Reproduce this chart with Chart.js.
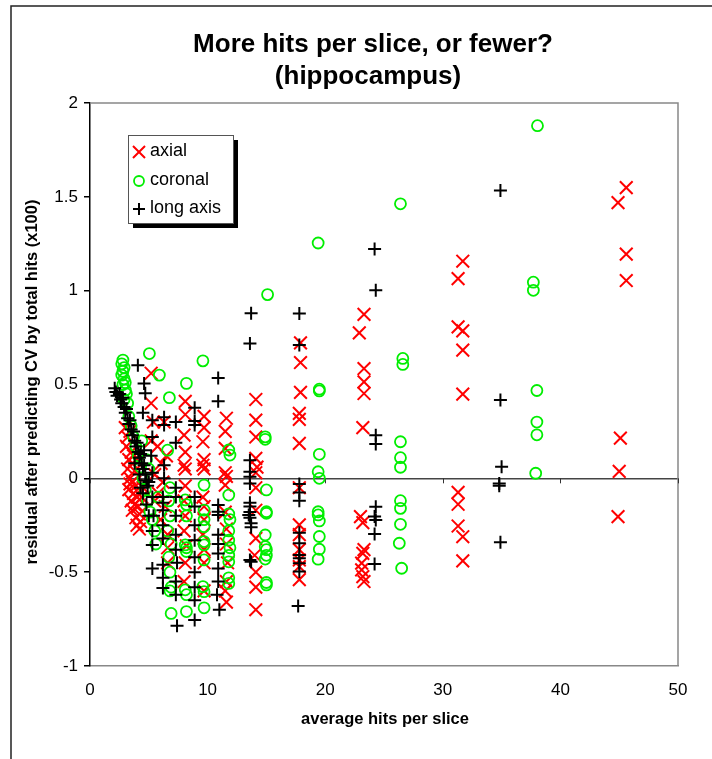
<!DOCTYPE html>
<html>
<head>
<meta charset="utf-8">
<script src="https://cdn.jsdelivr.net/npm/chart.js@4/dist/chart.umd.min.js"></script>
<style>
  html, body { margin: 0; padding: 0; background: #fff; }
  #wrap { width: 712px; height: 759px; }
</style>
</head>
<body>
<div id="wrap"><canvas id="c" width="712" height="759"></canvas></div>
<script>
// ---------- data ----------
const titleLines = ["More hits per slice, or fewer?", "(hippocampus)"];
const xTitle = "average hits per slice";
const yTitle = "residual after predicting CV by total hits (x100)";
const seriesNames = ["axial", "coronal", "long axis"];
const xTicks = [0, 10, 20, 30, 40, 50];
const yTicks = [-1, -0.5, 0, 0.5, 1, 1.5, 2];

const axialX = [
  3.0,3.2,3.4,3.1,3.5,3.3,3.6,3.2,3.8,3.4,3.6,3.9,3.3,3.7,4.0,3.5,3.8,4.1,3.6,4.2,3.9,4.3,4.0,4.2,3.4,3.7,4.4,4.5,
  5.2,5.2,5.4,5.2,5.75,6.5,6.05,5.5,6.2,5.8,6.4,6.0,6.6,6.6,6.6,5.5,6.3,
  8.1,8.1,8.0,8.1,8.0,8.1,8.1,8.0,8.1,8.0,8.2,8.1,8.0,
  9.7,9.7,9.6,9.7,9.6,9.7,9.6,9.7,9.7,9.6,9.7,9.7,9.7,
  11.6,11.5,11.5,11.5,11.6,11.5,11.5,11.6,11.6,11.7,11.6,11.5,11.6,
  14.1,14.1,14.1,14.1,14.2,14.1,14.1,14.1,14.1,14.0,14.1,14.1,14.1,
  17.9,17.9,17.9,17.8,17.8,17.8,17.8,17.8,17.8,17.8,17.8,17.8,17.8,
  23.3,22.9,23.3,23.3,23.3,23.2,23.0,23.2,23.3,23.2,23.1,23.1,23.2,23.3,
  31.7,31.3,31.3,31.7,31.7,31.7,31.3,31.3,31.3,31.7,31.7,
  45.6,44.9,45.6,45.6,45.1,45.0,44.9
];
const axialY = [
  0.27,0.22,0.25,0.17,0.14,0.10,0.08,0.05,0.04,0.00,-0.02,-0.04,-0.06,-0.08,-0.10,-0.12,-0.14,-0.15,-0.17,-0.19,-0.21,-0.23,-0.25,-0.27,-0.03,0.12,-0.10,-0.05,
  0.56,0.40,0.30,0.20,0.17,0.12,0.08,0.02,-0.02,-0.08,-0.15,-0.22,-0.30,-0.37,-0.45,-0.12,0.30,
  0.41,0.34,0.23,0.14,0.07,0.05,-0.04,-0.12,-0.20,-0.28,-0.36,-0.45,-0.55,
  0.33,0.27,0.195,0.10,0.07,0.05,-0.10,-0.15,-0.22,-0.30,-0.38,-0.45,-0.60,
  0.32,0.25,0.16,0.03,0.01,-0.036,-0.18,-0.27,-0.35,-0.45,-0.55,-0.60,-0.66,
  0.42,0.31,0.22,0.106,0.06,0.03,-0.05,-0.17,-0.32,-0.41,-0.50,-0.58,-0.70,
  0.722,0.617,0.458,0.346,0.314,0.186,-0.05,-0.248,-0.30,-0.38,-0.435,-0.47,-0.54,
  0.874,0.775,0.585,0.514,0.452,0.27,-0.204,-0.236,-0.38,-0.40,-0.452,-0.488,-0.524,-0.55,
  1.157,1.064,0.807,0.786,0.683,0.449,-0.075,-0.138,-0.254,-0.311,-0.44,
  1.549,1.469,1.195,1.054,0.214,0.037,-0.204
];

const coronalX = [
  2.8,2.7,2.9,2.8,2.7,2.9,3.0,2.8,3.0,3.1,2.9,3.2,
  3.3,3.5,3.7,3.9,4.1,4.3,4.5,4.7,4.9,5.1,5.3,5.5,4.4,4.8,5.0,
  5.05,5.9,5.6,5.8,
  6.75,6.6,6.8,6.7,6.8,6.6,6.9,6.7,6.8,6.9,6.8,6.9,
  8.2,8.1,8.2,8.2,8.1,8.2,8.2,8.1,8.2,8.2,
  9.6,9.7,9.7,9.7,9.7,9.7,9.7,9.7,9.6,9.7,9.7,
  11.8,11.9,11.8,11.8,11.9,11.8,11.8,11.9,11.8,11.8,11.8,11.8,
  15.1,14.9,14.9,15.0,15.0,15.0,14.9,14.9,15.0,15.0,14.9,15.0,15.0,
  19.4,19.5,19.5,19.5,19.4,19.5,19.4,19.4,19.5,19.5,19.5,19.4,
  26.4,26.6,26.6,26.4,26.4,26.4,26.4,26.4,26.4,26.3,26.5,
  38.05,37.7,37.7,38.0,38.0,38.0,37.9
];
const coronalY = [
  0.63,0.61,0.59,0.57,0.55,0.53,0.51,0.50,0.47,0.45,0.42,0.40,
  0.33,0.28,0.22,0.17,0.12,0.06,0.00,-0.06,-0.12,-0.18,-0.22,-0.28,0.20,0.10,0.05,
  0.665,0.55,-0.35,-0.10,
  0.43,0.15,-0.05,-0.12,-0.20,-0.28,-0.35,-0.42,-0.50,-0.58,-0.60,-0.72,
  0.506,-0.115,-0.14,-0.20,-0.355,-0.37,-0.39,-0.594,-0.62,-0.71,
  0.626,-0.036,-0.169,-0.22,-0.258,-0.337,-0.355,-0.435,-0.577,-0.604,-0.69,
  0.151,0.124,-0.089,-0.19,-0.22,-0.28,-0.33,-0.37,-0.41,-0.445,-0.53,-0.56,
  0.979,0.221,0.208,-0.062,-0.178,-0.186,-0.302,-0.364,-0.38,-0.41,-0.43,-0.555,-0.568,
  1.254,0.475,0.466,0.128,0.035,0.0,-0.178,-0.195,-0.227,-0.31,-0.378,-0.431,
  1.463,0.639,0.607,0.195,0.11,0.059,-0.119,-0.16,-0.245,-0.346,-0.479,
  1.879,1.045,1.002,0.468,0.30,0.232,0.027
];

const longX = [
  2.1,2.2,2.3,2.5,2.6,2.7,2.8,2.9,3.0,3.1,3.2,3.3,3.4,3.5,3.6,3.7,3.8,3.9,4.0,4.1,4.2,4.3,4.4,4.5,4.6,4.7,4.8,4.9,5.0,4.2,4.5,4.8,5.0,4.3,3.8,4.6,
  4.07,4.6,4.7,4.5,
  5.3,5.3,5.2,5.3,5.3,5.3,5.3,5.3,5.4,
  6.3,6.3,6.3,6.2,6.2,6.2,6.2,6.2,6.2,6.2,6.2,6.3,
  7.3,7.3,7.3,7.3,7.3,7.3,7.4,7.3,7.3,7.4,7.3,
  8.9,8.9,8.9,8.9,8.9,8.9,8.9,8.9,8.9,8.9,8.9,8.9,
  10.9,10.9,10.9,10.9,10.9,10.9,10.9,10.9,10.9,10.9,10.8,11.0,
  13.7,13.6,13.6,13.6,13.6,13.6,13.6,13.6,13.6,13.5,13.6,13.7,13.7,13.6,13.7,
  17.8,17.8,17.8,17.8,17.8,17.8,17.8,17.8,17.8,17.8,17.8,17.7,
  24.2,24.3,24.3,24.3,24.3,24.2,24.3,24.2,24.2,
  34.9,34.9,35.0,34.8,34.8,34.9
];
const longY = [
  0.48,0.46,0.44,0.45,0.42,0.40,0.43,0.38,0.35,0.37,0.32,0.29,0.31,0.26,0.23,0.25,0.20,0.17,0.19,0.14,0.11,0.13,0.08,0.05,0.07,0.02,-0.01,-0.04,-0.02,0.02,-0.08,-0.14,-0.20,-0.05,0.08,0.15,
  0.603,0.505,0.454,0.35,
  0.31,0.22,0.12,0.03,-0.10,-0.28,-0.355,-0.48,-0.20,
  0.325,0.284,0.07,-0.10,-0.13,-0.17,-0.25,-0.32,-0.46,-0.53,-0.585,0.0,
  0.30,0.19,-0.10,-0.20,-0.30,-0.38,-0.45,-0.55,-0.62,-0.785,-0.05,
  0.376,0.305,0.284,-0.10,-0.15,-0.25,-0.33,-0.42,-0.50,-0.58,-0.65,-0.755,
  0.535,0.411,-0.142,-0.178,-0.195,-0.30,-0.35,-0.40,-0.48,-0.55,-0.62,-0.70,
  0.88,0.718,0.097,0.035,0.009,-0.027,-0.13,-0.15,-0.18,-0.195,-0.21,-0.24,-0.26,-0.435,-0.445,
  0.878,0.71,-0.03,-0.075,-0.119,-0.29,-0.346,-0.408,-0.426,-0.452,-0.497,-0.68,
  1.222,1.002,0.23,0.183,-0.151,-0.204,-0.222,-0.296,-0.456,
  1.534,0.417,0.062,-0.027,-0.039,-0.34
];

// ---------- styling ----------
const FONT = "'Liberation Sans', Arial, sans-serif";
const seriesStyle = [
  { color: '#ff0000', style: 'crossRot', radius: 9, width: 2 },
  { color: '#00ee00', style: 'circle', radius: 5.5, width: 1.8 },
  { color: '#000000', style: 'cross', radius: 6.5, width: 2 }
];
const pts = (xs, ys) => xs.map((x, i) => ({ x: x, y: ys[i] }));
const seriesData = [pts(axialX, axialY), pts(coronalX, coronalY), pts(longX, longY)];

const datasets = seriesNames.map((name, i) => ({
  label: name,
  data: seriesData[i],
  order: 3 - i,
  pointStyle: seriesStyle[i].style,
  pointRadius: seriesStyle[i].radius,
  pointHoverRadius: seriesStyle[i].radius,
  borderColor: seriesStyle[i].color,
  backgroundColor: 'rgba(0,0,0,0)',
  pointBorderWidth: seriesStyle[i].width,
  showLine: false
}));

function drawMarker(ctx, st, x, y) {
  ctx.save();
  ctx.strokeStyle = st.color;
  ctx.lineWidth = st.width;
  ctx.beginPath();
  if (st.style === 'crossRot') {
    const d = st.radius * Math.SQRT1_2;
    ctx.moveTo(x - d, y - d); ctx.lineTo(x + d, y + d);
    ctx.moveTo(x + d, y - d); ctx.lineTo(x - d, y + d);
  } else if (st.style === 'circle') {
    ctx.arc(x, y, st.radius, 0, Math.PI * 2);
  } else {
    ctx.moveTo(x - st.radius, y); ctx.lineTo(x + st.radius, y);
    ctx.moveTo(x, y - st.radius); ctx.lineTo(x, y + st.radius);
  }
  ctx.stroke();
  ctx.restore();
}

const decor = {
  id: 'decor',
  beforeDraw(chart) {
    const ctx = chart.ctx;
    ctx.save();
    ctx.fillStyle = '#fff';
    ctx.fillRect(0, 0, chart.width, chart.height);
    ctx.strokeStyle = '#222';
    ctx.lineWidth = 1.5;
    ctx.beginPath();
    ctx.moveTo(11, chart.height);
    ctx.lineTo(11, 6);
    ctx.lineTo(chart.width, 6);
    ctx.stroke();
    ctx.restore();
  },
  beforeDatasetsDraw(chart) {
    const ctx = chart.ctx, a = chart.chartArea;
    const xs = chart.scales.x, ys = chart.scales.y;
    ctx.save();
    ctx.strokeStyle = '#888';
    ctx.lineWidth = 1.5;
    ctx.beginPath();
    ctx.moveTo(a.left, a.top);
    ctx.lineTo(a.right, a.top);
    ctx.lineTo(a.right, a.bottom);
    ctx.stroke();
    // tick marks on the zero line
    const y0 = ys.getPixelForValue(0);
    ctx.strokeStyle = '#333';
    ctx.lineWidth = 1;
    ctx.beginPath();
    xTicks.forEach(v => {
      const px = Math.round(xs.getPixelForValue(v)) + 0.5;
      ctx.moveTo(px, y0);
      ctx.lineTo(px, y0 + 5);
    });
    ctx.stroke();
    ctx.restore();
  },
  afterDraw(chart) {
    const ctx = chart.ctx;
    ctx.save();
    ctx.fillStyle = '#000';
    // title
    ctx.textAlign = 'center';
    ctx.textBaseline = 'alphabetic';
    ctx.font = 'bold 26px ' + FONT;
    ctx.fillText(titleLines[0], 373, 52);
    ctx.fillText(titleLines[1], 368, 84);
    // axis titles
    ctx.font = 'bold 16.5px ' + FONT;
    ctx.textBaseline = 'middle';
    ctx.fillText(xTitle, 385, 719);
    ctx.save();
    ctx.translate(32, 382);
    ctx.rotate(-Math.PI / 2);
    ctx.fillText(yTitle, 0, 0);
    ctx.restore();
    // legend
    const L = 128, T = 135, W = 105, H = 88;
    ctx.fillStyle = '#000';
    ctx.fillRect(L + 5, T + 5, W, H);
    ctx.fillStyle = '#fff';
    ctx.fillRect(L, T, W, H);
    ctx.strokeStyle = '#555';
    ctx.lineWidth = 1;
    ctx.strokeRect(L + 0.5, T + 0.5, W, H);
    ctx.font = '18px ' + FONT;
    ctx.textAlign = 'left';
    ctx.textBaseline = 'middle';
    const rows = [151, 180, 208];
    seriesNames.forEach((name, i) => {
      const st = seriesStyle[i];
      const small = Object.assign({}, st, { radius: st.style === 'crossRot' ? 8.5 : (st.style === 'circle' ? 5 : 6) });
      drawMarker(ctx, small, 139, rows[i] + 1);
      ctx.fillStyle = '#000';
      ctx.fillText(name, 150, rows[i]);
    });
    ctx.restore();
  }
};

new Chart(document.getElementById('c'), {
  type: 'scatter',
  data: { datasets: datasets },
  options: {
    responsive: false,
    devicePixelRatio: 1,
    animation: false,
    events: [],
    layout: { padding: { top: 103, right: 34, left: 0, bottom: 0 } },
    plugins: { legend: { display: false }, title: { display: false }, tooltip: { enabled: false } },
    scales: {
      x: {
        type: 'linear',
        min: 0, max: 50,
        afterFit: s => { s.height = 93; },
        afterBuildTicks: s => { s.ticks = xTicks.map(v => ({ value: v })); },
        grid: { drawOnChartArea: false, drawTicks: false },
        border: { color: '#888', width: 1.5 },
        ticks: { color: '#000', padding: 14, font: { family: FONT, size: 17 }, maxRotation: 0, callback: v => String(v) }
      },
      y: {
        type: 'linear',
        min: -1, max: 2,
        afterFit: s => { s.width = 90; },
        afterBuildTicks: s => { s.ticks = yTicks.map(v => ({ value: v })); },
        grid: {
          drawOnChartArea: true,
          drawTicks: true,
          tickLength: 6,
          tickColor: '#000',
          lineWidth: 1.5,
          color: c => (c.tick && c.tick.value === 0) ? '#444' : 'rgba(0,0,0,0)'
        },
        border: { color: '#000', width: 1.5 },
        ticks: { color: '#000', padding: 6, font: { family: FONT, size: 17 }, callback: v => String(v) }
      }
    }
  },
  plugins: [decor]
});
</script>
</body>
</html>
